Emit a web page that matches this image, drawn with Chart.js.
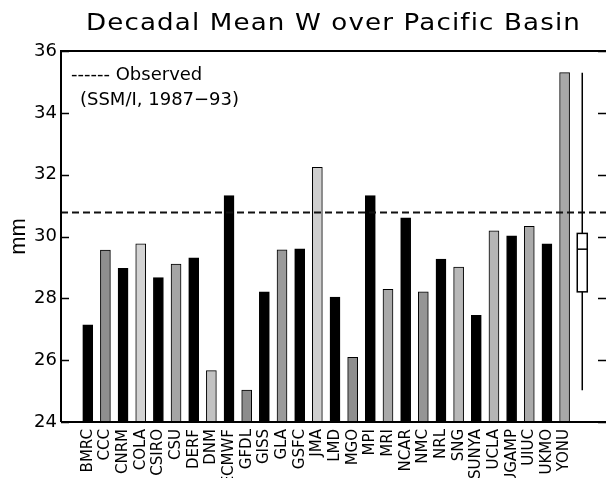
<!DOCTYPE html>
<html><head><meta charset="utf-8">
<script src="https://cdn.jsdelivr.net/npm/chart.js@4"></script>
<style>html,body{margin:0;padding:0;background:#fff}</style>
</head><body>
<canvas id="c" width="606" height="478"></canvas>
<script>
// ---- data ----
const models = ["BMRC","CCC","CNRM","COLA","CSIRO","CSU","DERF","DNM","ECMWF","GFDL","GISS","GLA","GSFC","JMA","LMD","MGO","MPI","MRI","NCAR","NMC","NRL","SNG","SUNYA","UCLA","UGAMP","UIUC","UKMO","YONU"];
const meanW = [27.14,29.56,28.97,29.76,28.67,29.11,29.31,25.66,31.32,25.03,28.21,29.57,29.60,32.24,28.04,26.09,31.32,28.29,30.60,28.21,29.27,29.01,27.45,30.18,30.02,30.33,29.76,35.30];
const observedW = 30.8;
const boxStats = [25.03, 28.21, 29.59, 30.10, 35.30]; // min, q1, median, q3, max
const yTickValues = [24,26,28,30,32,34,36];
const titleText = "Decadal Mean W over Pacific Basin";
const legendLines = ["------ Observed", "(SSM/I, 1987\u221293)"];

// ---- styles ----
const barFill = ["#000","#8f8f8f","#000","#d3d3d3","#000","#a5a5a5","#000","#c2c2c2","#000","#8c8c8c","#000","#9a9a9a","#000","#cfcfcf","#000","#8e8e8e","#000","#a9a9a9","#000","#959595","#000","#b8b8b8","#000","#b5b5b5","#000","#ababab","#000","#a8a8a8"];
const X_MIN = 0, X_MAX = 29.83, BOX_POS = models.length + 1;

const framePlugin = {
  id: 'frame',
  afterDatasetsDraw(chart) {
    const ctx = chart.ctx, a = chart.chartArea, y = chart.scales.y, x = chart.scales.x;
    ctx.save();
    // observed dashed line
    const yo = Math.round(y.getPixelForValue(observedW)) + 0.5;
    ctx.strokeStyle = '#111'; ctx.lineWidth = 2; ctx.setLineDash([7,4]);
    ctx.beginPath(); ctx.moveTo(a.left, yo); ctx.lineTo(a.right, yo); ctx.stroke();
    ctx.setLineDash([]);
    // box plot
    const bx = x.getPixelForValue(BOX_POS);
    const [mn,q1,md,q3,mx] = boxStats.map(v => y.getPixelForValue(v));
    ctx.strokeStyle = '#000'; ctx.lineWidth = 1.5;
    ctx.beginPath(); ctx.moveTo(bx, mx); ctx.lineTo(bx, mn); ctx.stroke();
    ctx.fillStyle = '#fff';
    ctx.fillRect(bx-5, q3, 10, q1-q3);
    ctx.strokeRect(bx-5, q3, 10, q1-q3);
    ctx.beginPath(); ctx.moveTo(bx-5, md); ctx.lineTo(bx+5, md); ctx.stroke();
    // frame
    ctx.lineWidth = 2; ctx.strokeStyle = '#000';
    ctx.beginPath();
    ctx.moveTo(a.left, a.bottom); ctx.lineTo(a.left, a.top); ctx.lineTo(a.right, a.top);
    ctx.moveTo(a.left, a.bottom); ctx.lineTo(a.right, a.bottom);
    ctx.stroke();
    // inside ticks
    ctx.lineWidth = 1.5;
    yTickValues.forEach(v => {
      const py = Math.round(y.getPixelForValue(v)) + 0.5;
      ctx.beginPath();
      ctx.moveTo(a.left, py); ctx.lineTo(a.left + 8, py);
      ctx.moveTo(a.right - 8, py); ctx.lineTo(a.right, py);
      ctx.stroke();
    });
    // legend text
    ctx.fillStyle = '#000';
    ctx.font = '18px "DejaVu Sans"';
    ctx.textBaseline = 'alphabetic'; ctx.textAlign = 'left';
    ctx.fillText(legendLines[0], a.left + 10, 80);
    ctx.fillText(legendLines[1], a.left + 19, 105);
    // title (stretched horizontally like the original stroke font)
    ctx.font = '23px "DejaVu Sans"';
    ctx.letterSpacing = '1px';
    const w = ctx.measureText(titleText).width;
    const target = 495;
    const sx = target / w;
    ctx.translate((a.left + a.right) / 2 - target / 2, 30);
    ctx.scale(sx, 1);
    ctx.fillText(titleText, 0, 0);
    ctx.restore();
  }
};

new Chart(document.getElementById('c'), {
  type: 'bar',
  data: {
    datasets: [{
      data: models.map((m, i) => ({x: i + 1, y: meanW[i]})),
      base: 24,
      backgroundColor: barFill,
      borderColor: '#000',
      borderWidth: 1,
      borderSkipped: false,
      barThickness: 10
    }]
  },
  options: {
    responsive: false,
    animation: false,
    devicePixelRatio: 1,
    layout: {padding: {top: 51, left: 0, right: 0, bottom: 0}},
    plugins: {legend: {display: false}, tooltip: {enabled: false}, title: {display: false}},
    scales: {
      x: {
        type: 'linear', min: X_MIN, max: X_MAX,
        grid: {display: false, drawTicks: false},
        border: {display: false},
        ticks: {
          stepSize: 1, autoSkip: false, includeBounds: false,
          minRotation: 90, maxRotation: 90, padding: 7,
          color: '#000', font: {family: 'DejaVu Sans', size: 15},
          callback: v => (Number.isInteger(v) && v >= 1 && v <= models.length) ? models[v - 1] : ''
        },
        afterFit: s => { s.height = 56; s.paddingLeft = 0; s.paddingRight = 0; }
      },
      y: {
        min: 24, max: 36,
        grid: {display: false, drawTicks: false},
        border: {display: false},
        ticks: {stepSize: 2, padding: 4, color: '#000', font: {family: 'DejaVu Sans', size: 18}},
        title: {display: true, text: 'mm', color: '#000', font: {family: 'Liberation Sans', size: 22}, padding: {top: 6, bottom: 0}},
        afterFit: s => { s.width = 61; s.paddingTop = 0; s.paddingBottom = 0; }
      }
    }
  },
  plugins: [framePlugin]
});
</script>
</body></html>
